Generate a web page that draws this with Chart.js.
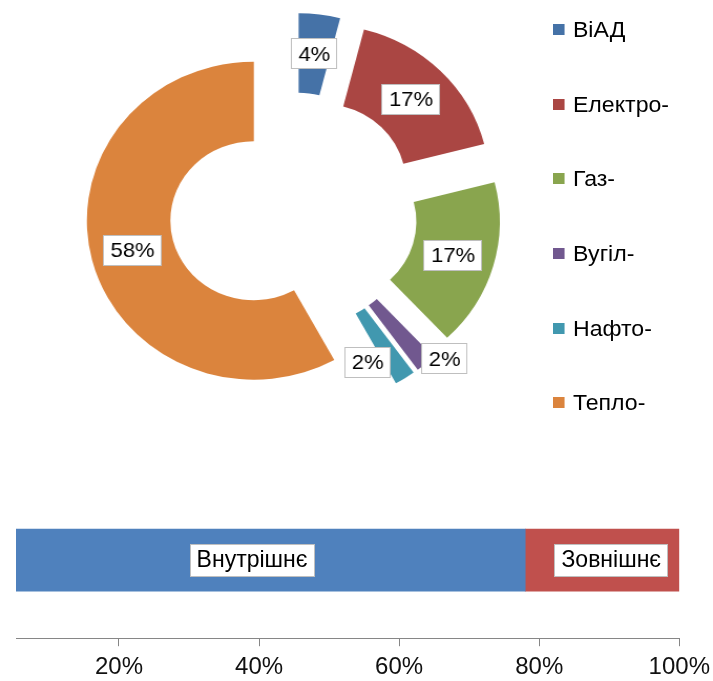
<!DOCTYPE html>
<html>
<head>
<meta charset="utf-8">
<script src="https://cdn.jsdelivr.net/npm/chart.js@4/dist/chart.umd.min.js"></script>
<style>
  body { margin: 0; background: #fff; width: 713px; height: 681px; position: relative; overflow: hidden; font-family: 'Liberation Sans', Arial, sans-serif; }
  #pie { position: absolute; left: 0; top: 0; }
  #bar { position: absolute; left: 0; top: 480px; }
  #legenda { position: absolute; left: 553px; top: 0; transform: scaleX(1.05); transform-origin: 0 0; }
  .item { position: absolute; left: 0; white-space: nowrap; font-size: 22px; color: #000; line-height: 24px; }
  .item span { display: inline-block; width: 11px; height: 11px; margin-right: 8px; vertical-align: 2px; }
</style>
</head>
<body>
<canvas id="pie" width="559" height="422" style="width:587px;height:422px"></canvas>
<div id="legenda"></div>
<canvas id="bar" width="717" height="211"></canvas>
<script>
// dados do anel
var categorias = ['ВіАД', 'Електро-', 'Газ-', 'Вугіл-', 'Нафто-', 'Тепло-'];
var valores = [4, 17, 17, 2, 2, 58];
var cores = ['#4572A7', '#AA4643', '#89A54E', '#71588F', '#4198AF', '#DB843D'];

// dados da barra
var tipos = ['Внутрішнє', 'Зовнішнє'];
var partes = [78, 22];
var coresBarra = ['#4F81BD', '#C0504D'];
var ticksX = [20, 40, 60, 80, 100];

var fonte = "'Liberation Sans', Arial, sans-serif";
var explode = 39;
// deslocamento manual dos rótulos pequenos
var ajusteRotulo = [[0, 0], [0, 0], [0, 0], [43, 26], [-14, 18], [0, 0]];
var ajusteBarra = [0, 9];

function caixa(ctx, texto, x, y, pad, alt, tam) {
  ctx.font = tam + 'px ' + fonte;
  var w = ctx.measureText(texto).width + pad * 2;
  ctx.fillStyle = '#fff';
  ctx.fillRect(Math.round(x - w / 2), Math.round(y - alt / 2), Math.round(w), alt);
  ctx.strokeStyle = '#bfbfbf';
  ctx.lineWidth = 1;
  ctx.strokeRect(Math.round(x - w / 2) + 0.5, Math.round(y - alt / 2) + 0.5, Math.round(w) - 1, alt - 1);
  ctx.fillStyle = '#000';
  ctx.textAlign = 'center';
  ctx.textBaseline = 'middle';
  ctx.fillText(texto, x, y + 1);
}

var explodir = {
  id: 'explodir',
  afterDatasetUpdate: function(chart, args) {
    args.meta.data.forEach(function(arc) {
      var meio = (arc.startAngle + arc.endAngle) / 2;
      arc.x += Math.cos(meio) * explode;
      arc.y += Math.sin(meio) * explode;
    });
  },
  afterDatasetsDraw: function(chart) {
    var ctx = chart.ctx;
    var total = valores.reduce(function(a, b) { return a + b; }, 0);
    chart.getDatasetMeta(0).data.forEach(function(arc, i) {
      var p = arc.getCenterPoint();
      var txt = Math.round(valores[i] / total * 100) + '%';
      caixa(ctx, txt, p.x + ajusteRotulo[i][0], p.y + ajusteRotulo[i][1], 7, 31, 21);
    });
  }
};

new Chart(document.getElementById('pie').getContext('2d'), {
  type: 'doughnut',
  data: {
    labels: categorias,
    datasets: [{
      data: valores,
      backgroundColor: cores,
      borderWidth: 0
    }]
  },
  options: {
    responsive: false,
    animation: false,
    radius: 159,
    cutout: '50%',
    layout: { padding: 0 },
    plugins: { legend: { display: false }, tooltip: { enabled: false } }
  },
  plugins: [explodir]
});

// legenda em html
var leg = document.getElementById('legenda');
var posY = [30, 105, 179, 254, 329, 403];
categorias.forEach(function(c, i) {
  var d = document.createElement('div');
  d.className = 'item';
  d.style.top = (posY[i] - 12) + 'px';
  d.innerHTML = '<span style="background:' + cores[i] + '"></span>' + c;
  leg.appendChild(d);
});

var rotulosBarra = {
  id: 'rotulosBarra',
  afterDatasetsDraw: function(chart) {
    var ctx = chart.ctx;
    var escala = chart.scales.x;
    var inicio = 0;
    partes.forEach(function(v, i) {
      var el = chart.getDatasetMeta(i).data[0];
      var x = escala.getPixelForValue(inicio + v / 2) + ajusteBarra[i];
      caixa(ctx, tipos[i], x, el.y, 7, 33, 23);
      inicio += v;
    });
  }
};

new Chart(document.getElementById('bar').getContext('2d'), {
  type: 'bar',
  data: {
    labels: [''],
    datasets: partes.map(function(v, i) {
      return { label: tipos[i], data: [v], backgroundColor: coresBarra[i], barThickness: 62 };
    })
  },
  options: {
    responsive: false,
    animation: false,
    indexAxis: 'y',
    layout: { padding: { left: 16, right: 0, top: 2, bottom: 2 } },
    scales: {
      x: {
        stacked: true,
        min: 5.3,
        max: 100,
        afterBuildTicks: function(s) {
          s.ticks = ticksX.map(function(v) { return { value: v }; });
        },
        ticks: {
          color: '#111',
          padding: 7,
          maxRotation: 0,
          font: { family: fonte, size: 24 },
          callback: function(v) { return v + '%'; }
        },
        grid: { drawOnChartArea: false, tickLength: 8, color: '#868686' },
        border: { color: '#868686' }
      },
      y: { stacked: true, display: false }
    },
    plugins: { legend: { display: false }, tooltip: { enabled: false } }
  },
  plugins: [rotulosBarra]
});
</script>
</body>
</html>
